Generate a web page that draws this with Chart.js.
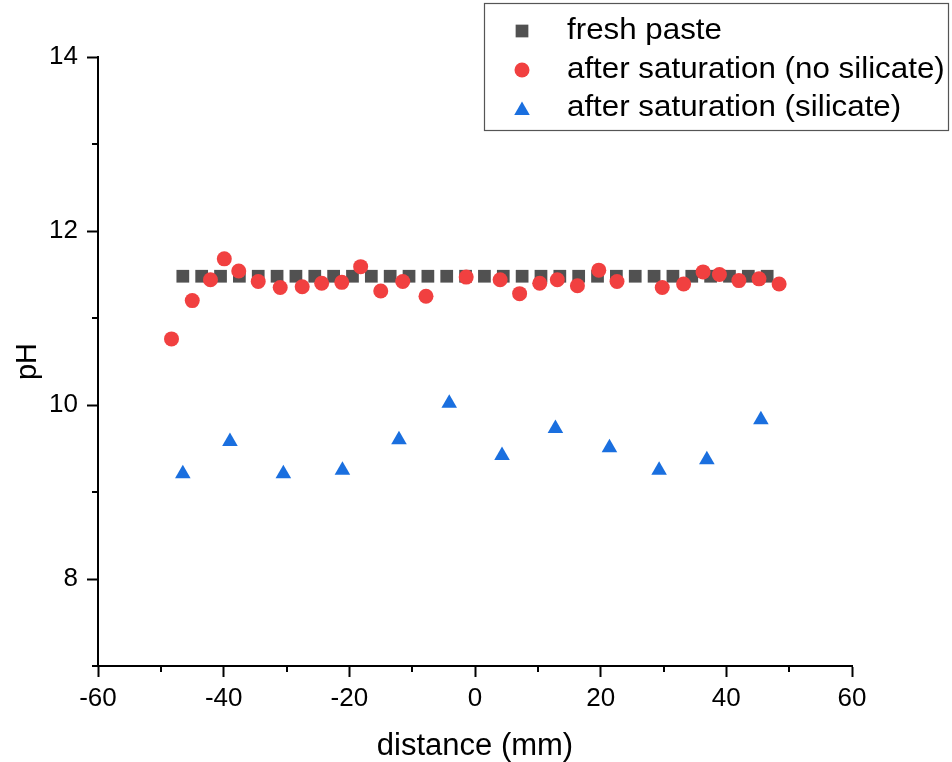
<!DOCTYPE html>
<html>
<head>
<meta charset="utf-8">
<title>pH profile</title>
<script src="https://cdn.jsdelivr.net/npm/chart.js@4.4.1/dist/chart.umd.min.js"></script>
<style>
  html, body { margin: 0; padding: 0; background: #fff; }
  #wrap { width: 952px; height: 762px; }
</style>
</head>
<body>
<div id="wrap"><canvas id="phChart" width="952" height="762"></canvas></div>
<script>
// measured pH along the sample (distance in mm)
const freshX = [-46.5, -43.5, -40.5, -37.5, -34.5, -31.5, -28.5, -25.5, -22.5, -19.5, -16.5, -13.5,
  -10.5, -7.5, -4.5, -1.5, 1.5, 4.5, 7.5, 10.5, 13.5, 16.5, 19.5, 22.5, 25.5, 28.5, 31.5, 34.5,
  37.5, 40.5, 43.5, 46.5];
const freshY = [11.48, 11.48, 11.48, 11.48, 11.48, 11.48, 11.48, 11.48, 11.48, 11.48, 11.48, 11.48,
  11.48, 11.48, 11.48, 11.48, 11.48, 11.48, 11.48, 11.48, 11.48, 11.48, 11.48, 11.48, 11.48, 11.48,
  11.48, 11.48, 11.48, 11.48, 11.48, 11.48];

const noSilX = [-48.3, -45.0, -42.1, -39.9, -37.6, -34.5, -31.0, -27.5, -24.4, -21.2, -18.2, -15.0,
  -11.5, -7.8, -1.4, 4.0, 7.1, 10.3, 13.1, 16.3, 19.7, 22.6, 29.8, 33.2, 36.3, 38.9, 42.0, 45.2, 48.4];
const noSilY = [10.76, 11.20, 11.44, 11.68, 11.54, 11.42, 11.35, 11.36, 11.40, 11.41, 11.59, 11.31,
  11.42, 11.25, 11.47, 11.44, 11.28, 11.40, 11.44, 11.37, 11.55, 11.42, 11.35, 11.39, 11.53, 11.50,
  11.43, 11.45, 11.39];

const silX = [-46.5, -39.0, -30.5, -21.1, -12.1, -4.1, 4.3, 12.8, 21.4, 29.3, 36.9, 45.5];
const silY = [9.21, 9.58, 9.21, 9.25, 9.60, 10.02, 9.42, 9.73, 9.51, 9.25, 9.37, 9.83];

const xMajorTicks = [-60, -40, -20, 0, 20, 40, 60];
const xMinorTicks = [-50, -30, -10, 10, 30, 50];
const yMajorTicks = [8, 10, 12, 14];
const yMinorTicks = [7, 9, 11, 13];

const seriesLabels = ['fresh paste', 'after saturation (no silicate)', 'after saturation (silicate)'];
const seriesColors = ['#515151', '#F14040', '#1A6FDF'];
const seriesStyles = ['rect', 'circle', 'triangle'];
const seriesRadius = [9, 7.5, 9];

const FONT = '"Liberation Sans", Arial, Helvetica, sans-serif';
Chart.defaults.font.family = FONT;
Chart.defaults.color = '#000';

function toPoints(xs, ys) {
  return xs.map((x, i) => ({ x: x, y: ys[i] }));
}

function makeDataset(i, points) {
  return {
    label: seriesLabels[i],
    data: points,
    showLine: false,
    pointStyle: seriesStyles[i],
    pointRadius: seriesRadius[i],
    pointHoverRadius: seriesRadius[i],
    pointBackgroundColor: seriesColors[i],
    pointBorderColor: seriesColors[i],
    pointBorderWidth: 0,
    order: 3 - i
  };
}

// short unlabeled ticks between the major ones
const minorTicks = {
  id: 'minorTicks',
  afterDraw(chart) {
    const { ctx, chartArea, scales } = chart;
    ctx.save();
    ctx.strokeStyle = '#000';
    ctx.lineWidth = 2;
    ctx.beginPath();
    xMinorTicks.forEach(v => {
      const px = Math.round(scales.x.getPixelForValue(v));
      ctx.moveTo(px, chartArea.bottom);
      ctx.lineTo(px, chartArea.bottom + 6);
    });
    yMinorTicks.forEach(v => {
      const py = Math.round(scales.y.getPixelForValue(v));
      ctx.moveTo(chartArea.left - 6, py);
      ctx.lineTo(chartArea.left, py);
    });
    ctx.stroke();
    ctx.restore();
  }
};

// boxed legend in the top right corner
const legendBox = {
  id: 'legendBox',
  afterDraw(chart) {
    const ctx = chart.ctx;
    const markerY = [31, 70, 110.5];
    const textY = [39, 77.5, 116];
    ctx.save();
    ctx.fillStyle = '#fff';
    ctx.fillRect(484, 3, 465, 127);
    ctx.strokeStyle = '#555';
    ctx.lineWidth = 1.2;
    ctx.strokeRect(484.5, 3.5, 464, 127);

    seriesLabels.forEach((label, i) => {
      ctx.fillStyle = seriesColors[i];
      ctx.strokeStyle = seriesColors[i];
      Chart.helpers.drawPoint(ctx, {
        pointStyle: seriesStyles[i],
        radius: seriesRadius[i],
        rotation: 0,
        borderWidth: 0
      }, 522, markerY[i]);

      ctx.save();
      ctx.fillStyle = '#000';
      ctx.font = '29px ' + FONT;
      ctx.textBaseline = 'alphabetic';
      ctx.textAlign = 'left';
      ctx.translate(567, textY[i]);
      ctx.scale(1.08, 1);
      ctx.fillText(label, 0, 0);
      ctx.restore();
    });
    ctx.restore();
  }
};

const chart = new Chart(document.getElementById('phChart'), {
  type: 'scatter',
  data: {
    datasets: [
      makeDataset(0, toPoints(freshX, freshY)),
      makeDataset(1, toPoints(noSilX, noSilY)),
      makeDataset(2, toPoints(silX, silY))
    ]
  },
  options: {
    responsive: false,
    animation: false,
    layout: { padding: { left: 0, top: 57, right: 100, bottom: 0 } },
    plugins: {
      legend: { display: false },
      tooltip: { enabled: false }
    },
    scales: {
      x: {
        type: 'linear',
        min: -60,
        max: 60,
        afterBuildTicks: s => { s.ticks = xMajorTicks.map(v => ({ value: v })); },
        afterFit: s => { s.height = 96; },
        border: { display: true, color: '#000', width: 2 },
        grid: { drawOnChartArea: false, drawTicks: true, tickLength: 11, tickColor: '#000', tickWidth: 2 },
        ticks: { color: '#000', font: { size: 26 }, padding: 6, maxRotation: 0, autoSkip: false },
        title: {
          display: true,
          text: 'distance (mm)',
          color: '#000',
          font: { size: 31, lineHeight: 1 },
          padding: { top: 0, bottom: 0 }
        }
      },
      y: {
        type: 'linear',
        min: 7,
        max: 14,
        afterBuildTicks: s => { s.ticks = yMajorTicks.map(v => ({ value: v })); },
        afterFit: s => { s.width = 98; },
        border: { display: true, color: '#000', width: 2 },
        grid: { drawOnChartArea: false, drawTicks: true, tickLength: 11, tickColor: '#000', tickWidth: 2 },
        ticks: { color: '#000', font: { size: 26 }, padding: 9 },
        title: {
          display: true,
          text: 'pH',
          color: '#000',
          font: { size: 29, lineHeight: 1 },
          padding: { top: 13, bottom: 0 }
        }
      }
    }
  },
  plugins: [minorTicks, legendBox]
});
</script>
</body>
</html>
